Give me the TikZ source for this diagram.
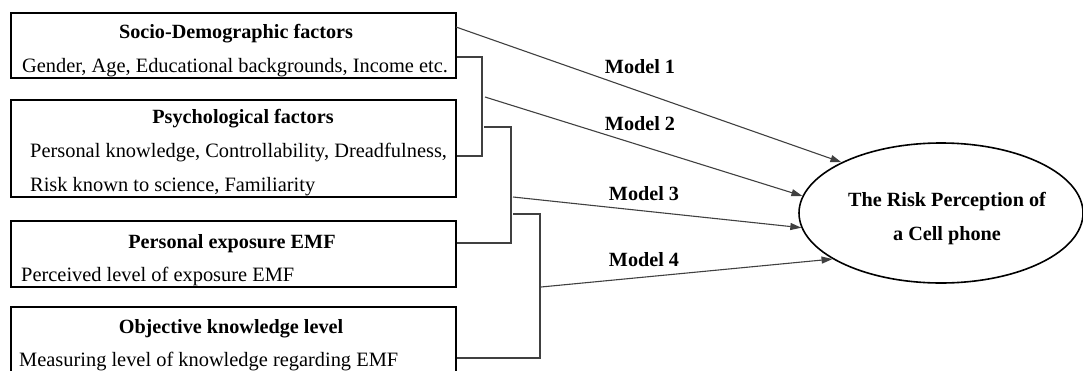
\documentclass[tikz,border=0pt]{standalone}
\usepackage{fontspec}
\setmainfont{Liberation Serif}
\usetikzlibrary{shapes,arrows.meta}

\begin{document}
\begin{tikzpicture}[x=1pt,y=-1pt]
		\useasboundingbox (0,0) rectangle (1083,370);
		\begin{scope}
            [
                every node/.style={
					font=\fontsize{20.4}{34}\selectfont, inner sep=0pt },
				box/.style = {draw=black, line width=1.6pt, minimum width=445pt},
				head/.style = {font=\fontsize{20.2}{34}\selectfont\bfseries, anchor=base},
				body/.style = {anchor=base west}
            ]
            
			\node(a)[box, minimum height=65pt] at (233.5,45.5) {};
			\node(a1)[head] at (236,38) {Socio-Demographic factors};
			\node(a2)[body] at (22,72) {Gender, Age, Educational backgrounds, Income etc.};
			
			\node(b)[box, minimum height=97pt] at (233.5,148.5) {};
			\node(b1)[head] at (243,123) {Psychological factors};
			\node(b2)[body] at (30,157) {Personal knowledge, Controllability, Dreadfulness,};
			\node(b3)[body] at (30,191) {Risk known to science, Familiarity};
			
			\node(c)[box, minimum height=66pt] at (233.5,254) {};
			\node(c1)[head] at (232,248) {Personal exposure EMF};
			\node(c2)[body] at (21,281) {Perceived level of exposure EMF};
			
			\node(d)[box, minimum height=75pt] at (233.5,344.5) {};
			\node(d1)[head] at (231,333) {Objective knowledge level};
			\node(d2)[body] at (19,366) {Measuring level of knowledge regarding EMF};

			\node(e)[draw=black, ellipse, line width=1.6pt, minimum width=284pt, minimum height=140pt] at (941,213) {};
			\node(e1)[align=center, font=\fontsize{20.2}{34}\selectfont\bfseries] at (947,219) {The Risk Perception of\\a Cell phone};

		\end{scope}
		\begin{scope}
            [>={Triangle[length=11pt,width=7pt]},
                link/.style={draw=black!75, line width=1.1pt},
				model/.style={font=\fontsize{20.2}{24}\selectfont\bfseries, inner sep=0pt}
            ]
            % bracket corners and arrow starts
            \coordinate (s1) at (456,27);
            \coordinate (p1) at (482,57);
            \coordinate (p2) at (482,156);
            \coordinate (s2) at (485,97);
            \coordinate (q1) at (484,127);
            \coordinate (q2) at (511,127);
            \coordinate (q3) at (511,243);
            \coordinate (s3) at (513,197);
            \coordinate (r1) at (513,214);
            \coordinate (r2) at (540,214);
            \coordinate (r3) at (540,358);
            \coordinate (s4) at (541,287);

            \draw[link] (a.east |- p1) -- (p1) -- (p2) -- (b.east |- p2);
            \draw[link] (q1) -- (q2) -- (q3) -- (c.east |- q3);
            \draw[link] (r1) -- (r2) -- (r3) -- (d.east |- r3);

            \draw[link,->] (s1) -- (e.153);
            \draw[link,->] (s2) -- (e.173);
            \draw[link,->] (s3) -- (e.186);
            \draw[link,->] (s4) -- (e.203);

            \node(m1)[model] at (640,67) {Model 1};
            \node(m2)[model] at (640,124) {Model 2};
            \node(m3)[model] at (644,194) {Model 3};
            \node(m4)[model] at (644,260) {Model 4};
		\end{scope}
    \end{tikzpicture}
\end{document}
